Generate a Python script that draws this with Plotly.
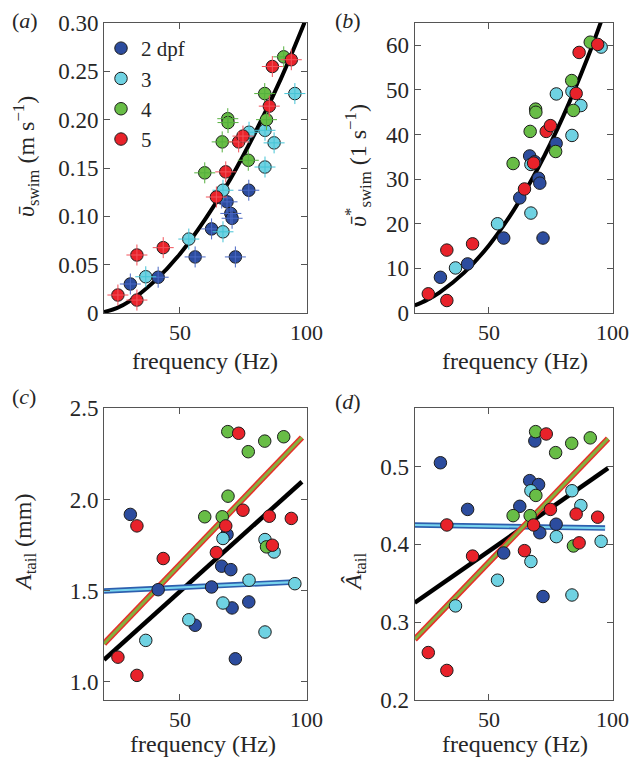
import plotly.graph_objects as go

# tail-beat frequency (Hz) of each larva, by age group
freq_2dpf = [30.4, 41.4, 56.0, 62.5, 66.5, 68.6, 70.1, 70.6, 71.9, 77.2]
freq_3dpf = [36.5, 53.5, 67.0, 67.0, 77.3, 83.6, 83.6, 87.2, 95.4]
freq_4dpf = [59.8, 66.7, 68.9, 69.0, 77.0, 83.5, 84.2, 91.0]
freq_5dpf = [25.5, 33.0, 33.0, 43.4, 64.4, 68.1, 73.2, 74.9, 85.3, 86.5, 94.0]

# (a) mean swimming speed (m/s)
v_2dpf = [0.030, 0.037, 0.058, 0.087, 0.119, 0.115, 0.103, 0.098, 0.058, 0.127]
v_3dpf = [0.0375, 0.0765, 0.084, 0.127, 0.187, 0.189, 0.151, 0.176, 0.227]
v_4dpf = [0.145, 0.177, 0.201, 0.197, 0.158, 0.227, 0.200, 0.265]
v_5dpf = [0.0186, 0.060, 0.0134, 0.0676, 0.120, 0.146, 0.177, 0.183, 0.214, 0.255, 0.262]

# (b) speed in body lengths per second (1/s)
vs_2dpf = [8.0, 11.0, 16.8, 25.8, 35.2, 33.9, 30.2, 29.1, 16.8, 38.0]
vs_3dpf = [10.1, 20.0, 22.4, 33.3, 49.1, 49.7, 39.8, 46.5, 59.6]
vs_4dpf = [33.5, 40.7, 45.7, 45.0, 36.2, 52.1, 45.4, 60.7]
vs_5dpf = [4.3, 14.1, 2.8, 15.5, 27.8, 33.6, 40.7, 42.0, 49.2, 58.4, 60.2]

# (c) tail amplitude (mm)
amp_2dpf = [1.918, 1.505, 1.31, 1.52, 1.634, 1.808, 1.615, 1.405, 1.126, 1.438]
amp_3dpf = [1.227, 1.34, 1.432, 1.786, 1.557, 1.78, 1.273, 1.712, 1.538]
amp_4dpf = [1.905, 1.905, 2.372, 2.018, 2.262, 2.32, 1.74, 2.344]
amp_5dpf = [1.135, 1.855, 1.035, 1.676, 1.709, 1.855, 2.363, 1.941, 1.908, 1.749, 1.896]

# (d) tail amplitude / body length
ahat_2dpf = [0.505, 0.445, 0.389, 0.449, 0.482, 0.533, 0.477, 0.415, 0.333, 0.426]
ahat_3dpf = [0.321, 0.354, 0.378, 0.469, 0.41, 0.469, 0.335, 0.45, 0.404]
ahat_4dpf = [0.437, 0.437, 0.545, 0.463, 0.518, 0.530, 0.398, 0.537]
ahat_5dpf = [0.261, 0.425, 0.238, 0.385, 0.392, 0.425, 0.542, 0.445, 0.439, 0.402, 0.435]

# fitted curves
fit_f_a = [20, 25, 30, 40, 50, 60, 70, 80, 90, 99.3]
fit_v_a = [0.001, 0.005, 0.012, 0.033, 0.061, 0.097, 0.139, 0.188, 0.243, 0.301]
fit_f_b = [20, 25, 30, 40, 50, 60, 70, 80, 90, 95.5]
fit_v_b = [1.68, 2.94, 4.58, 9.05, 15.15, 23.0, 32.6, 44.0, 57.3, 65.5]

# straight fits in (c) and (d)
line_f = [20, 98.2]
line_f_blue = [20, 97.0]
amp_fit_all = [1.121, 2.097]
amp_fit_late = [1.209, 2.340]
amp_fit_early = [1.498, 1.548]
ahat_fit_all = [0.325, 0.498]
ahat_fit_late = [0.278, 0.536]
ahat_fit_early = [0.425, 0.421]

groups = ["2 dpf", "3", "4", "5"]
colors = ["#2c4c9e", "#6fd2e2", "#68bd46", "#e8222a"]
cross_colors = ["#4a68c4", "#45c4d6", "#55b03e", "#f2525a"]

FONT = "Liberation Serif"
TXT = "#262626"
# the page body has an 8 px margin, so the figure starts at (8, 8) in the window
OFF = 8
W, H = 640, 761

fig = go.Figure()


def px_x(p):
    return (p - OFF) / W


def px_y(p):
    return 1 - (p - OFF) / H


panels = [
    ("x", "y", [freq_2dpf, freq_3dpf, freq_4dpf, freq_5dpf], [v_2dpf, v_3dpf, v_4dpf, v_5dpf]),
    ("x2", "y2", [freq_2dpf, freq_3dpf, freq_4dpf, freq_5dpf], [vs_2dpf, vs_3dpf, vs_4dpf, vs_5dpf]),
    ("x3", "y3", [freq_2dpf, freq_3dpf, freq_4dpf, freq_5dpf], [amp_2dpf, amp_3dpf, amp_4dpf, amp_5dpf]),
    ("x4", "y4", [freq_2dpf, freq_3dpf, freq_4dpf, freq_5dpf], [ahat_2dpf, ahat_3dpf, ahat_4dpf, ahat_5dpf]),
]

# fit lines first so markers sit on top
fig.add_trace(go.Scatter(x=fit_f_a, y=fit_v_a, mode="lines", line=dict(color="black", width=4, shape="spline"),
                         xaxis="x", yaxis="y", showlegend=False, hoverinfo="skip"))
fig.add_trace(go.Scatter(x=fit_f_b, y=fit_v_b, mode="lines", line=dict(color="black", width=4, shape="spline"),
                         xaxis="x2", yaxis="y2", showlegend=False, hoverinfo="skip"))

for xa, ya, early, late, allfit in [("x3", "y3", amp_fit_early, amp_fit_late, amp_fit_all),
                                    ("x4", "y4", ahat_fit_early, ahat_fit_late, ahat_fit_all)]:
    fig.add_trace(go.Scatter(x=line_f, y=allfit, mode="lines", line=dict(color="black", width=4.5),
                             xaxis=xa, yaxis=ya, showlegend=False, hoverinfo="skip"))
    fig.add_trace(go.Scatter(x=line_f_blue, y=early, mode="lines", line=dict(color="#2d5fae", width=5.5),
                             xaxis=xa, yaxis=ya, showlegend=False, hoverinfo="skip"))
    fig.add_trace(go.Scatter(x=line_f_blue, y=early, mode="lines", line=dict(color="#78d4ee", width=2.2),
                             xaxis=xa, yaxis=ya, showlegend=False, hoverinfo="skip"))
    fig.add_trace(go.Scatter(x=line_f, y=late, mode="lines", line=dict(color="#e6302a", width=6),
                             xaxis=xa, yaxis=ya, showlegend=False, hoverinfo="skip"))
    fig.add_trace(go.Scatter(x=line_f, y=late, mode="lines", line=dict(color="#86b03c", width=3),
                             xaxis=xa, yaxis=ya, showlegend=False, hoverinfo="skip"))

for k, (xa, ya, xs, ys) in enumerate(panels):
    for i, name in enumerate(groups):
        fig.add_trace(go.Scatter(
            x=xs[i], y=ys[i], mode="markers", name=name,
            marker=dict(size=12.5, color=colors[i], line=dict(color="#1c1c1c", width=1)),
            xaxis=xa, yaxis=ya, showlegend=(k == 0),
        ))
        if k == 0:
            # small error crosses on panel (a)
            fig.add_trace(go.Scatter(
                x=xs[i], y=ys[i], mode="markers",
                marker=dict(symbol="cross-thin", size=15, line=dict(color=cross_colors[i], width=1)),
                xaxis=xa, yaxis=ya, showlegend=False, hoverinfo="skip",
            ))

axis_style = dict(
    showline=True, linecolor="#555555", linewidth=1, mirror="allticks",
    ticks="inside", ticklen=6, tickcolor="#555555", tickwidth=1,
    showgrid=False, zeroline=False, automargin=False,
    tickfont=dict(family=FONT, size=23, color=TXT),
)
x_style = dict(axis_style, tickfont=dict(family=FONT, size=22, color=TXT))

left_dom = [px_x(104), px_x(306.5)]
right_dom = [px_x(414.7), px_x(612.5)]
top_dom = [px_y(313), px_y(23)]
bot_dom = [px_y(700), px_y(408.3)]

fig.update_layout(
    width=W, height=H,
    margin=dict(l=0, r=0, t=0, b=0),
    paper_bgcolor="white", plot_bgcolor="white",
    font=dict(family=FONT, size=24, color=TXT),
    xaxis=dict(domain=left_dom, anchor="y", range=[20, 100], tickvals=[50, 100], **x_style),
    yaxis=dict(domain=top_dom, anchor="x", range=[0, 0.30],
               tickvals=[0, 0.05, 0.10, 0.15, 0.20, 0.25, 0.30],
               ticktext=["0", "0.05", "0.10", "0.15", "0.20", "0.25", "0.30"], **axis_style),
    xaxis2=dict(domain=right_dom, anchor="y2", range=[20, 100], tickvals=[50, 100], **x_style),
    yaxis2=dict(domain=top_dom, anchor="x2", range=[0, 65], tickvals=[0, 10, 20, 30, 40, 50, 60], **axis_style),
    xaxis3=dict(domain=left_dom, anchor="y3", range=[20, 100], tickvals=[50, 100], **x_style),
    yaxis3=dict(domain=bot_dom, anchor="x3", range=[0.9, 2.5], tickvals=[1.0, 1.5, 2.0, 2.5],
                tickformat=".1f", **axis_style),
    xaxis4=dict(domain=right_dom, anchor="y4", range=[20, 100], tickvals=[50, 100], **x_style),
    yaxis4=dict(domain=bot_dom, anchor="x4", range=[0.2, 0.575], tickvals=[0.2, 0.3, 0.4, 0.5],
                tickformat=".1f", **axis_style),
    legend=dict(x=px_x(101), y=px_y(28), xanchor="left", yanchor="top",
                bgcolor="rgba(0,0,0,0)", font=dict(family=FONT, size=21, color=TXT),
                tracegroupgap=0, itemwidth=30),
)

# panel letters; (a) and (c) are kept just inside the left edge
letters = [
    ("(<i>a</i>)", 10, 20, "left"),
    ("(<i>b</i>)", 348, 20, "center"),
    ("(<i>c</i>)", 10, 397, "left"),
    ("(<i>d</i>)", 348, 402, "center"),
]
for text, ax, ay, anchor in letters:
    fig.add_annotation(text=text, x=px_x(ax), y=px_y(ay), xref="paper", yref="paper",
                       showarrow=False, xanchor=anchor, yanchor="middle",
                       font=dict(family=FONT, size=22, color=TXT))

titles = [
    ("frequency (Hz)", 205, 361, 0),
    ("frequency (Hz)", 515, 361, 0),
    ("frequency (Hz)", 203, 744, 0),
    ("frequency (Hz)", 515, 744, 0),
    ("<i>ῡ</i><sub>swim</sub> (m s<sup>−1</sup>)", 26, 157, -90),
    ("<i>ῡ</i><sup>*</sup><sub>swim</sub> (1 s<sup>−1</sup>)", 358, 166, -90),
    ("<i>A</i><sub>tail</sub> (mm)", 25, 543, -90),
    ("<i>Â</i><sub>tail</sub>", 355, 572, -90),
]
for text, ax, ay, ang in titles:
    fig.add_annotation(text=text, x=px_x(ax), y=px_y(ay), xref="paper", yref="paper",
                       showarrow=False, textangle=ang, xanchor="center", yanchor="middle",
                       font=dict(family=FONT, size=24, color=TXT))

fig.write_html("out.html")
